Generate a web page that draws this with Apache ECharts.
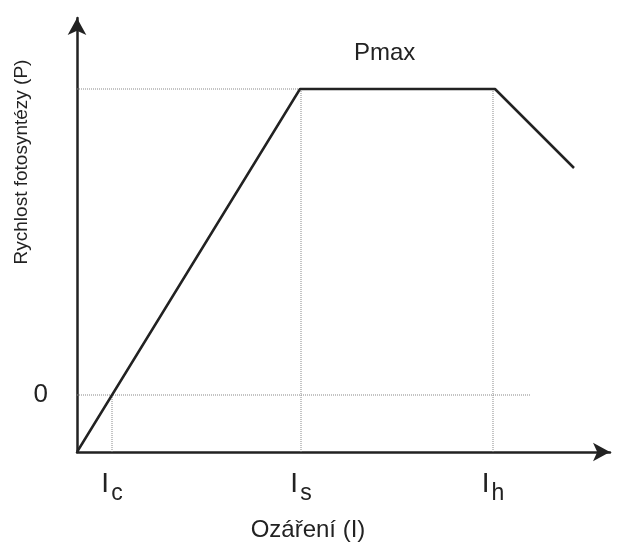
<!DOCTYPE html>
<html>
<head>
<meta charset="utf-8">
<script src="https://cdn.jsdelivr.net/npm/echarts@6/dist/echarts.min.js"></script>
<style>
    html, body { margin: 0; padding: 0; background: #fff; }
    #chart { width: 619px; height: 553px; }
</style>
</head>
<body>
<div id="chart"></div>
<script>
    // křivka rychlosti fotosyntézy (libovolné jednotky)
    const curve = [[0, -57], [223, 306], [418, 306], [497, 227]];
    // pomocné tečkované čáry
    const pmaxGuide = [[0, 306], [223, 306]];
    const zeroGuide = [[0, 0], [453, 0]];
    const icGuide = [[35, -57], [35, 0]];
    const isGuide = [[224, -57], [224, 306]];
    const ihGuide = [[416, -57], [416, 306]];
    // popisky os
    const xTicks = [35, 224, 416];
    const xTickLabels = ['{a|I}{b|c}', '{a|I}{b|s}', '{a|I}{b|h}'];
    const yTicks = [0];

    const font = 'Liberation Sans, Arial, sans-serif';
    const ink = '#222';

    const guideStyle = { color: '#888', width: 1, type: 'dotted' };
    const guide = (data) => ({
        type: 'line', data: data, symbol: 'none', silent: true,
        lineStyle: guideStyle, z: 1
    });

    const option = {
        animation: false,
        title: {
            text: 'Pmax', left: 349, top: 36,
            textStyle: { fontFamily: font, fontSize: 24, fontWeight: 'normal', color: ink }
        },
        grid: { left: 77, right: 9, top: 18, bottom: 101, containLabel: false, outerBoundsMode: 'none' },
        xAxis: {
            type: 'value', min: 0, max: 533,
            splitLine: { show: false },
            axisLine: { onZero: false, lineStyle: { color: ink, width: 2.5 }, symbol: ['none', 'arrow'], symbolSize: [14, 17] },
            axisTick: { show: false },
            axisLabel: {
                customValues: xTicks,
                margin: 12,
                formatter: (v) => xTickLabels[xTicks.indexOf(v)],
                rich: {
                    a: { fontFamily: font, fontSize: 28, color: ink },
                    b: { fontFamily: font, fontSize: 23, color: ink, padding: [18, 0, 0, 2] }
                }
            },
            name: 'Ozáření (I)', nameLocation: 'middle', nameGap: 66, nameMoveOverlap: false,
            nameTextStyle: { fontFamily: font, fontSize: 24, color: ink, padding: [0, 71, 0, 0] }
        },
        yAxis: {
            type: 'value', min: -57, max: 377,
            splitLine: { show: false },
            axisLine: { show: true, onZero: false, lineStyle: { color: ink, width: 2.5 }, symbol: ['none', 'arrow'], symbolSize: [14, 17] },
            axisTick: { show: false },
            axisLabel: {
                customValues: yTicks, margin: 29,
                fontFamily: font, fontSize: 26, color: ink
            },
            name: 'Rychlost fotosyntézy (P)', nameLocation: 'middle', nameGap: 46, nameMoveOverlap: false,
            nameTextStyle: {
                fontFamily: font, fontSize: 19, color: ink, padding: [0, 0, 0, 146]
            }
        },
        series: [
            guide(pmaxGuide),
            guide(zeroGuide),
            guide(icGuide),
            guide(isGuide),
            guide(ihGuide),
            {
                type: 'line', data: curve, symbol: 'none', z: 3,
                lineStyle: { color: ink, width: 2.5 }
            }
        ]
    };

    const chart = echarts.init(document.getElementById('chart'));
    chart.setOption(option);
</script>
</body>
</html>
